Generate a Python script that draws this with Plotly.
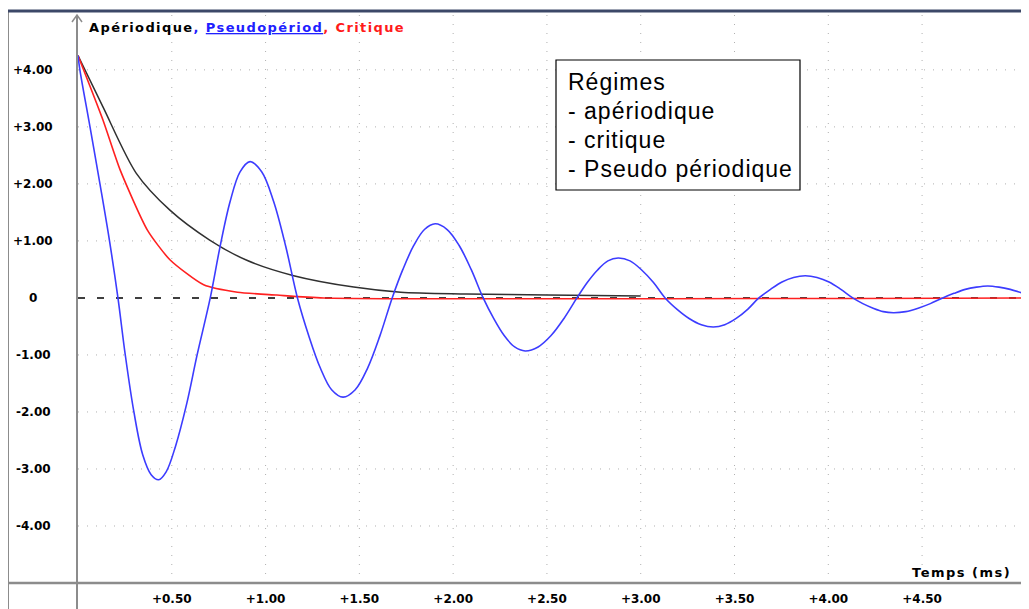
import plotly.graph_objects as go

# ---------------- data ----------------
t_pseudo = [0, 0.01, 0.064, 0.117, 0.168, 0.213, 0.252, 0.298, 0.345, 0.39, 0.43, 0.47, 0.52,
            0.58, 0.635, 0.705, 0.758, 0.811, 0.864, 0.917, 0.98, 1.043, 1.107, 1.17,
            1.231, 1.292, 1.352, 1.413, 1.478, 1.544, 1.609, 1.675,
            1.732, 1.79, 1.847, 1.904, 1.968, 2.032, 2.096, 2.16,
            2.216, 2.272, 2.328, 2.384, 2.453, 2.522, 2.591, 2.66,
            2.715, 2.77, 2.825, 2.88, 2.943, 3.005, 3.068, 3.13,
            3.194, 3.258, 3.323, 3.387, 3.448, 3.509, 3.57, 3.63,
            3.692, 3.753, 3.815, 3.877, 3.94, 4.004, 4.067, 4.13,
            4.184, 4.239, 4.293, 4.347, 4.413, 4.479, 4.544, 4.61,
            4.67, 4.73, 4.79, 4.85, 4.91, 4.97, 5.03, 5.07]
v_pseudo = [4.25, 4.0, 3.0, 2.0, 1.0, 0.0, -1.0, -2.0, -2.75, -3.1, -3.19, -3.05, -2.6,
            -1.85, -1.0, 0.0, 0.91, 1.69, 2.21, 2.39, 2.21, 1.69, 0.91, 0.0,
            -0.67, -1.23, -1.61, -1.74, -1.61, -1.23, -0.67, 0.0,
            0.50, 0.92, 1.20, 1.30, 1.20, 0.92, 0.50, 0.0,
            -0.36, -0.66, -0.86, -0.93, -0.86, -0.66, -0.36, 0.0,
            0.27, 0.49, 0.65, 0.70, 0.65, 0.49, 0.27, 0.0,
            -0.20, -0.36, -0.47, -0.51, -0.47, -0.36, -0.20, 0.0,
            0.15, 0.28, 0.36, 0.39, 0.36, 0.28, 0.15, 0.0,
            -0.10, -0.18, -0.24, -0.26, -0.24, -0.18, -0.10, 0.0,
            0.08, 0.15, 0.19, 0.21, 0.19, 0.15, 0.09, 0.05]

t_aperiodic = [0, 0.133, 0.31, 0.49, 0.70, 0.90, 1.15, 1.47, 1.72, 2.07, 2.5, 3.0]
v_aperiodic = [4.25, 3.35, 2.19, 1.54, 1.02, 0.66, 0.39, 0.19, 0.10, 0.07, 0.05, 0.035]

t_critique = [0, 0.133, 0.224, 0.37, 0.49, 0.67, 0.85, 1.06, 1.31, 5.07]
v_critique = [4.25, 3.12, 2.25, 1.19, 0.67, 0.23, 0.10, 0.05, 0.0, 0.0]

x_tick_vals = [0.5, 1.0, 1.5, 2.0, 2.5, 3.0, 3.5, 4.0, 4.5]
x_tick_text = ["+0.50", "+1.00", "+1.50", "+2.00", "+2.50", "+3.00", "+3.50", "+4.00", "+4.50"]
y_tick_vals = [4, 3, 2, 1, 0, -1, -2, -3, -4]
y_tick_text = ["+4.00", "+3.00", "+2.00", "+1.00", "0", "-1.00", "-2.00", "-3.00", "-4.00"]
y_grid_vals = [4, 3, 2, 1, -1, -2, -3, -4]

X_RANGE = [0, 5.07]
Y_RANGE = [-5.0, 5.05]

# ---------------- layout geometry (page pixels; the page body adds an 8px offset) ----------------
OFF = 8
W, H = 1029 - OFF, 609 - OFF
PLOT_L, PLOT_R, PLOT_T, PLOT_B = 78, 1029, 10, 583   # page pixels of the plot area
ML, MR, MT, MB = PLOT_L - OFF, 1029 - PLOT_R, PLOT_T - OFF, 609 - PLOT_B
PW, PH = PLOT_R - PLOT_L, PLOT_B - PLOT_T


def px(xp):
    return (xp - PLOT_L) / PW


def py(yp):
    return (PLOT_B - yp) / PH


BOLD = "DejaVu Sans"

fig = go.Figure()

fig.add_trace(go.Scatter(x=[X_RANGE[0], X_RANGE[1]], y=[0, 0], mode="lines",
                         line=dict(color="black", width=1.5, dash="7px,12px"),
                         hoverinfo="skip", showlegend=False))
fig.add_trace(go.Scatter(x=t_aperiodic, y=v_aperiodic, mode="lines", name="Apériodique",
                         line=dict(color="#303030", width=1.5, shape="spline", smoothing=0.8),
                         showlegend=False))
fig.add_trace(go.Scatter(x=t_critique, y=v_critique, mode="lines", name="Critique",
                         line=dict(color="#ff2020", width=1.6, shape="spline", smoothing=0.6),
                         showlegend=False))
fig.add_trace(go.Scatter(x=t_pseudo, y=v_pseudo, mode="lines", name="Pseudopériod",
                         line=dict(color="#3c3cff", width=1.6, shape="spline", smoothing=1.0),
                         showlegend=False))

shapes = []
for v in y_grid_vals:
    shapes.append(dict(type="line", xref="paper", yref="y", x0=0, x1=1, y0=v, y1=v,
                       line=dict(color="#b0b0b0", width=1, dash="1px,8px"), layer="below"))
for v in x_tick_vals:
    shapes.append(dict(type="line", xref="x", yref="paper", x0=v, x1=v, y0=0, y1=1,
                       line=dict(color="#b0b0b0", width=1, dash="1px,8px"), layer="below"))
# frame lines
shapes.append(dict(type="line", xref="paper", yref="paper", x0=px(8), x1=px(8),
                   y0=py(612), y1=py(10), line=dict(color="#8c8c8c", width=2)))
shapes.append(dict(type="line", xref="paper", yref="paper", x0=px(7), x1=px(1032),
                   y0=py(11), y1=py(11), line=dict(color="#3c4868", width=3)))
shapes.append(dict(type="line", xref="paper", yref="paper", x0=px(8), x1=px(1032),
                   y0=py(583), y1=py(583), line=dict(color="#8c8c8c", width=2.5)))
# vertical axis with arrow
shapes.append(dict(type="line", xref="paper", yref="paper", x0=px(77), x1=px(77),
                   y0=py(612), y1=py(15), line=dict(color="#8c8c8c", width=2)))
shapes.append(dict(type="path", xref="paper", yref="paper",
                   path=f"M {px(72)} {py(22)} L {px(77)} {py(15)} L {px(82)} {py(22)}",
                   line=dict(color="#8c8c8c", width=1.5)))
# legend box
shapes.append(dict(type="rect", xref="paper", yref="paper", x0=px(556), x1=px(800),
                   y0=py(190), y1=py(60), fillcolor="white",
                   line=dict(color="black", width=1.2)))

annotations = []
for v, txt in zip(y_tick_vals, y_tick_text):
    annotations.append(dict(x=px(33), y=v, xref="paper", yref="y", text=f"<b>{txt}</b>",
                            showarrow=False, xanchor="center", yanchor="middle",
                            font=dict(family=BOLD, size=12, color="black")))

SP = "letter-spacing:1.4px;"
annotations.append(dict(
    x=px(87), y=py(27), xref="paper", yref="paper", xanchor="left", yanchor="middle",
    showarrow=False,
    text=(f"<span style='{SP}'><b>Apériodique</b></span>"
          f"<span style='{SP}color:#2020ff'><b>, <u>Pseudopériod</u></b></span>"
          f"<span style='{SP}color:#ff1a1a'><b>, Critique</b></span>"),
    font=dict(family=BOLD, size=13, color="black")))

annotations.append(dict(x=px(1013), y=py(572), xref="paper", yref="paper", xanchor="right",
                        yanchor="middle", showarrow=False,
                        text="<span style='letter-spacing:1.5px;'><b>Temps (ms)</b></span>",
                        font=dict(family=BOLD, size=13, color="black")))

box_lines = ["Régimes", "- apériodique", "- critique", "- Pseudo périodique"]
for i, line in enumerate(box_lines):
    annotations.append(dict(x=px(566), y=py(82 + 29 * i), xref="paper", yref="paper",
                            xanchor="left", yanchor="middle", showarrow=False,
                            text=f"<span style='letter-spacing:1px;'>{line}</span>",
                            font=dict(family="Liberation Sans", size=23, color="black")))

fig.update_layout(
    width=W, height=H,
    margin=dict(l=ML, r=MR, t=MT, b=MB, pad=0),
    paper_bgcolor="white", plot_bgcolor="white",
    shapes=shapes, annotations=annotations,
    xaxis=dict(range=X_RANGE, tickvals=x_tick_vals, ticktext=[f"<b>{s}</b>" for s in x_tick_text],
               showgrid=False, zeroline=False, showline=False, ticks="",
               tickfont=dict(family=BOLD, size=12, color="black"), ticklabelstandoff=7,
               fixedrange=True),
    yaxis=dict(range=Y_RANGE, showgrid=False, zeroline=False, showline=False,
               showticklabels=False, ticks="", fixedrange=True),
    showlegend=False,
)

fig.write_html("out.html")
